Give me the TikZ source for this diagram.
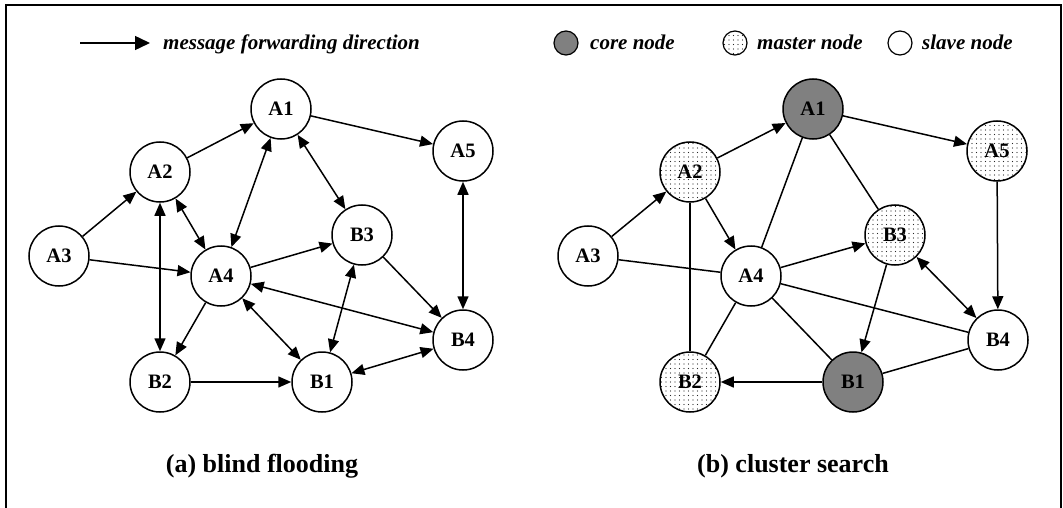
\documentclass[tikz,border=0pt]{standalone}
\usepackage{fontspec}
\setmainfont{Liberation Serif}
\usetikzlibrary{arrows.meta,patterns.meta}
\begin{document}
\begin{tikzpicture}[x=1pt,y=-1pt,
  nd/.style={circle,draw,line width=1.5pt,minimum size=60pt,inner sep=0pt,font=\fontsize{20.5}{21}\selectfont\bfseries},
  corend/.style={nd,fill=black!50},
  masternd/.style={nd,pattern={Dots[distance=4.5pt,radius=0.7pt]},pattern color=black!85},
  lgcore/.style={circle,draw,line width=1.2pt,minimum size=24pt,inner sep=0pt,fill=black!50},
  lgmaster/.style={circle,draw,line width=1.2pt,minimum size=24pt,inner sep=0pt,pattern={Dots[distance=4.5pt,radius=0.7pt]},pattern color=black!85},
  lgslave/.style={circle,draw,line width=1.2pt,minimum size=24pt,inner sep=0pt},
  lgtext/.style={anchor=base west,inner sep=0pt,font=\fontsize{21}{22}\selectfont\bfseries\itshape},
  captext/.style={anchor=base,inner sep=0pt,font=\fontsize{26}{27}\selectfont\bfseries},
  edge/.style={line width=1.5pt},
  ar/.style={edge,-{Triangle[length=13pt,width=11pt]}},
  bi/.style={edge,{Triangle[length=13pt,width=11pt]}-{Triangle[length=13pt,width=11pt]}}
]
\useasboundingbox (0,0) rectangle (1063,508);
\draw[line width=2pt] (6,515) -- (6,5) -- (1061,5) -- (1061,515);

% legend left
\coordinate (lgs) at (80,43);
\coordinate (lge) at (150,43);
\draw[edge,-{Triangle[length=15pt,width=14pt]}] (lgs) -- (lge);
\node[lgtext] (lgmsg) at (163,50) {message forwarding direction};

% legend right
\node[lgcore] (lgc) at (566,43) {};
\node[lgtext] (lgct) at (590,50) {core node};
\node[lgmaster] (lgm) at (735,43) {};
\node[lgtext] (lgmt) at (757,50) {master node};
\node[lgslave] (lgsl) at (900,43) {};
\node[lgtext] (lgst) at (922,50) {slave node};

% left panel
\node[nd] (LA1) at (281,109) {A1};
\node[nd] (LA2) at (160,172) {A2};
\node[nd] (LA3) at (59,256) {A3};
\node[nd] (LA4) at (221,276) {A4};
\node[nd] (LA5) at (463,151) {A5};
\node[nd] (LB3) at (362,235) {B3};
\node[nd] (LB4) at (463,340) {B4};
\node[nd] (LB2) at (160,382) {B2};
\node[nd] (LB1) at (322,382) {B1};

\draw[ar] (LA2) -- (LA1);
\draw[ar] (LA1) -- (LA5);
\draw[ar] (LA3) -- (LA2);
\draw[ar] (LA3) -- (LA4);
\draw[bi] (LA2) -- (LA4);
\draw[bi] (LA2) -- (LB2);
\draw[bi] (LA1) -- (LA4);
\draw[bi] (LA1) -- (LB3);
\draw[ar] (LA4) -- (LB3);
\draw[ar] (LA4) -- (LB2);
\draw[bi] (LA4) -- (LB1);
\draw[bi] (LA4) -- (LB4);
\draw[bi] (LB3) -- (LB1);
\draw[ar] (LB3) -- (LB4);
\draw[bi] (LA5) -- (LB4);
\draw[ar] (LB2) -- (LB1);
\draw[bi] (LB1) -- (LB4);

\node[captext] (capa) at (262,472) {(a) blind flooding};

% right panel
\node[corend] (RA1) at (813,109) {A1};
\node[masternd] (RA2) at (690,172) {A2};
\node[nd] (RA3) at (588,256) {A3};
\node[nd] (RA4) at (751,276) {A4};
\node[masternd] (RA5) at (997,151) {A5};
\node[masternd] (RB3) at (895,235) {B3};
\node[nd] (RB4) at (998,340) {B4};
\node[masternd] (RB2) at (690,382) {B2};
\node[corend] (RB1) at (853,382) {B1};

\draw[ar] (RA2) -- (RA1);
\draw[ar] (RA1) -- (RA5);
\draw[ar] (RA3) -- (RA2);
\draw[edge] (RA3) -- (RA4);
\draw[ar] (RA2) -- (RA4);
\draw[edge] (RA2) -- (RB2);
\draw[edge] (RA1) -- (RA4);
\draw[edge] (RA1) -- (RB3);
\draw[ar] (RA4) -- (RB3);
\draw[edge] (RA4) -- (RB2);
\draw[edge] (RA4) -- (RB1);
\draw[edge] (RA4) -- (RB4);
\draw[ar] (RB3) -- (RB1);
\draw[bi] (RB3) -- (RB4);
\draw[ar] (RA5) -- (RB4);
\draw[ar] (RB1) -- (RB2);
\draw[edge] (RB1) -- (RB4);

\node[captext] (capb) at (793,472) {(b) cluster search};
\end{tikzpicture}
\end{document}
